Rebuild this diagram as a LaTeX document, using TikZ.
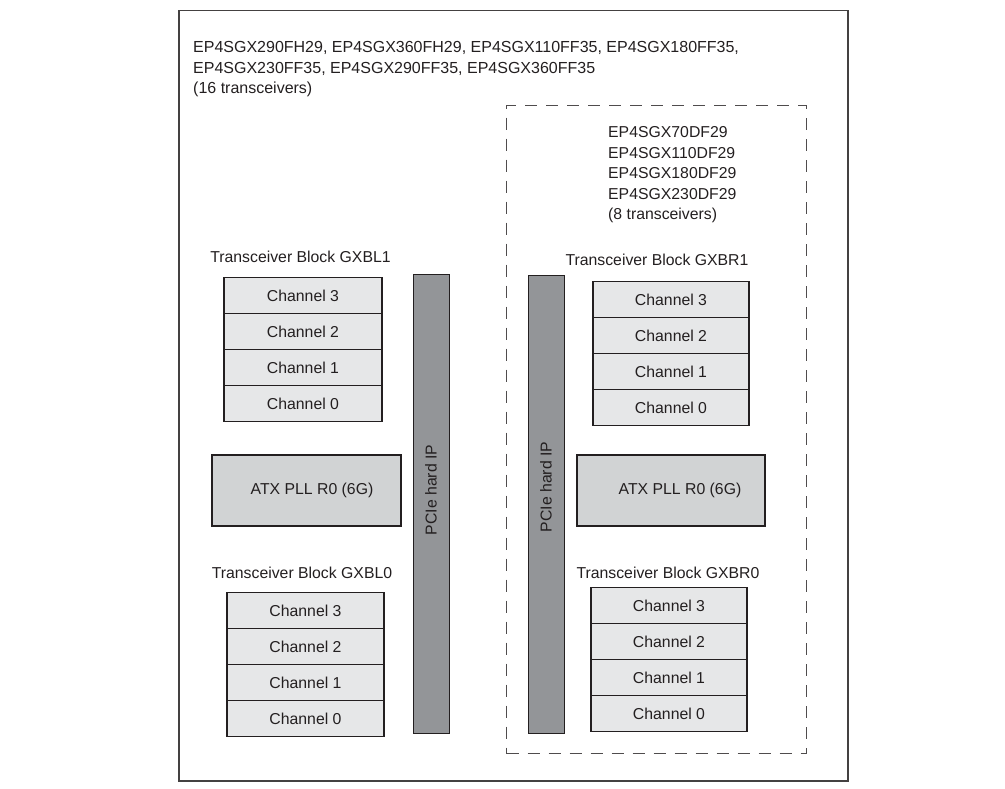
\documentclass[tikz,border=0pt]{standalone}
\usepackage{fontspec}
\setmainfont{Liberation Sans}
\definecolor{chanfill}{HTML}{E6E7E8}
\definecolor{atxfill}{HTML}{D1D3D4}
\definecolor{pciefill}{HTML}{939598}
\definecolor{ink}{HTML}{231F20}
\begin{document}
\begin{tikzpicture}[x=1pt,y=-1pt,
  every node/.style={font=\fontsize{15.8}{20.5}\selectfont, text=ink, inner sep=0pt},
  chan/.style={draw=ink, line width=1.3pt, fill=chanfill, minimum height=36pt, anchor=north},
  atx/.style={draw=ink, line width=1.5pt, fill=atxfill, minimum width=189pt, minimum height=71pt, anchor=north west},
  pcie/.style={draw=ink, line width=1.3pt, fill=pciefill, minimum width=36pt, minimum height=459pt, anchor=north west},
  lbl/.style={anchor=center},
  frame/.style={draw=ink!85, line width=1.5pt},
  dashbox/.style={draw=ink!80, line width=1.2pt, dash pattern=on 12pt off 9pt}
]
\useasboundingbox (0,0) rectangle (1005,789);
% outer frame
\node[frame, anchor=north west, minimum width=669pt, minimum height=770pt] (outer) at (178,10) {};
% dashed box
\node[dashbox, anchor=north west, minimum width=300pt, minimum height=648pt] (dbox) at (506,105) {};
% top text
\node[anchor=north west, align=left, font=\fontsize{16}{20.5}\selectfont] (toptext) at (193,41.5) {EP4SGX290FH29, EP4SGX360FH29, EP4SGX110FF35, EP4SGX180FF35,\\EP4SGX230FF35, EP4SGX290FF35, EP4SGX360FF35\\(16 transceivers)};
\node[anchor=north west, align=left] (righttext) at (608,126.5) {EP4SGX70DF29\\EP4SGX110DF29\\EP4SGX180DF29\\EP4SGX230DF29\\(8 transceivers)};
% PCIe bars
\node[pcie] (pcieL) at (413,274) {};
\node[pcie, minimum height=458pt] (pcieR) at (528,275) {};
\node[rotate=90] (pcieLt) at (431,490) {PCIe hard IP};
\node[rotate=90] (pcieRt) at (546,487) {PCIe hard IP};
% ATX PLLs
\node[atx] (atxL) at (211,454) {};
\node (atxLt) at (312,490) {ATX PLL R0 (6G)};
\node[atx, minimum width=188pt] (atxR) at (576,454) {};
\node (atxRt) at (680,490) {ATX PLL R0 (6G)};
% GXBL1
\node[lbl] (gxbl1) at (300.5,257) {Transceiver Block GXBL1};
\node[chan, minimum width=158pt] (l1c3) at (303,277) {Channel 3};
\node[chan, minimum width=158pt] (l1c2) at (303,313) {Channel 2};
\node[chan, minimum width=158pt] (l1c1) at (303,349) {Channel 1};
\node[chan, minimum width=158pt] (l1c0) at (303,385) {Channel 0};
% GXBL0
\node[lbl] (gxbl0) at (302,573) {Transceiver Block GXBL0};
\node[chan, minimum width=157pt] (l0c3) at (305.5,592) {Channel 3};
\node[chan, minimum width=157pt] (l0c2) at (305.5,628) {Channel 2};
\node[chan, minimum width=157pt] (l0c1) at (305.5,664) {Channel 1};
\node[chan, minimum width=157pt] (l0c0) at (305.5,700) {Channel 0};
% GXBR1
\node[lbl] (gxbr1) at (657,260) {Transceiver Block GXBR1};
\node[chan, minimum width=156pt] (r1c3) at (671,281) {Channel 3};
\node[chan, minimum width=156pt] (r1c2) at (671,317) {Channel 2};
\node[chan, minimum width=156pt] (r1c1) at (671,353) {Channel 1};
\node[chan, minimum width=156pt] (r1c0) at (671,389) {Channel 0};
% GXBR0
\node[lbl] (gxbr0) at (668,573) {Transceiver Block GXBR0};
\node[chan, minimum width=156pt] (r0c3) at (669,587) {Channel 3};
\node[chan, minimum width=156pt] (r0c2) at (669,623) {Channel 2};
\node[chan, minimum width=156pt] (r0c1) at (669,659) {Channel 1};
\node[chan, minimum width=156pt] (r0c0) at (669,695) {Channel 0};
\end{tikzpicture}
\end{document}
